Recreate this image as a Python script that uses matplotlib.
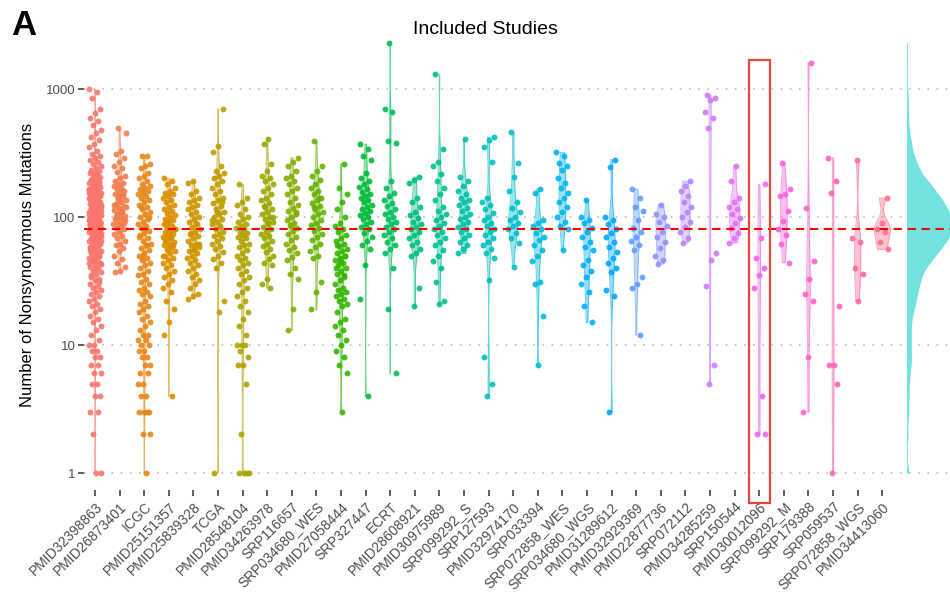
import numpy as np
import matplotlib
matplotlib.use('Agg')
import matplotlib.pyplot as plt
from matplotlib.patches import Rectangle
from matplotlib.transforms import blended_transform_factory

plt.rcParams['font.family'] = ['Liberation Sans', 'DejaVu Sans']

# values (nonsynonymous mutations per sample)
v_PMID32398863 = [1000, 950, 850, 700, 650, 590, 560, 520, 480, 450, 420, 400, 370, 350, 330, 310, 300,
                  290, 280, 270, 260, 250, 240, 235, 230, 225, 220, 215, 210, 205, 200, 196, 192, 188,
                  184, 180, 176, 172, 168, 165, 162, 158, 155, 152, 149, 146, 143, 140, 137, 134, 131,
                  128, 126, 124, 122, 120, 118, 116, 114, 112, 110, 108, 106, 104, 102, 100, 99, 97,
                  95, 93, 92, 90, 88, 87, 85, 84, 82, 81, 80, 78, 77, 76, 74, 73, 72, 70, 69, 68, 66,
                  65, 64, 62, 61, 60, 58, 57, 56, 54, 53, 52, 50, 49, 48, 46, 45, 44, 42, 41, 40, 38,
                  37, 36, 34, 33, 32, 30, 29, 28, 27, 26, 25, 24, 23, 22, 21, 20, 19, 18, 17, 16, 15,
                  14, 13, 12, 11, 10, 10, 9, 9, 8, 8, 7, 7, 6, 6, 5, 5, 4, 4, 3, 3, 2, 1, 1,
                  150, 130, 120, 110, 100, 95, 90, 85, 80, 75, 70, 65, 60, 55, 50, 45, 140, 125, 105, 88,
                  210, 195, 185, 175, 165, 160, 150, 145, 140, 135, 130, 127, 123, 119, 115, 111, 107,
                  103, 98, 94, 91, 89, 86, 83, 79, 75, 71, 67, 63, 59, 55, 51, 47, 43, 39, 35, 31, 170,
                  155, 138, 121, 113, 101, 96, 86, 78, 71, 66, 58, 52, 48, 44, 62, 84, 92, 108, 117,
                  132, 144, 162, 82, 76, 69, 74, 91, 99, 104, 112, 87, 79]
v_PMID26873401 = [500, 450, 330, 310, 290, 270, 250, 240, 225, 210, 200, 190, 185, 180, 175, 170, 165,
                  160, 155, 150, 145, 140, 135, 130, 126, 122, 118, 114, 110, 106, 102, 100, 97, 94,
                  91, 88, 85, 82, 80, 77, 74, 71, 68, 65, 62, 60, 57, 54, 50, 47, 44, 41, 38, 37,
                  150, 130, 120, 110, 100, 90, 140, 125, 115, 105, 95, 86]
v_ICGC = [300, 300, 260, 250, 240, 220, 210, 200, 190, 180, 175, 170, 165, 160, 155, 150, 145, 140,
          135, 130, 125, 120, 115, 110, 105, 100, 96, 92, 88, 85, 82, 78, 75, 72, 68, 65, 62, 60, 57,
          55, 52, 50, 48, 46, 44, 42, 40, 38, 36, 35, 33, 31, 30, 28, 27, 26, 25, 24, 22, 21, 20, 19,
          18, 17, 16, 15, 14, 13, 12, 12, 11, 11, 10, 10, 9, 9, 8, 8, 7, 7, 6, 6, 5, 5, 4, 4, 3, 3,
          3, 3, 2, 2, 1, 120, 100, 80, 70, 60, 50]
v_PMID25151357 = [200, 190, 180, 170, 160, 155, 150, 145, 140, 135, 130, 125, 120, 116, 112, 108, 104,
                  100, 97, 94, 91, 88, 85, 82, 80, 78, 76, 74, 72, 70, 68, 66, 64, 62, 60, 58, 56, 54,
                  52, 50, 48, 46, 44, 42, 40, 38, 36, 34, 32, 30, 28, 26, 22, 19, 15, 12, 4,
                  90, 80, 70, 65, 60, 55, 50]
v_PMID25839328 = [190, 185, 160, 150, 140, 135, 130, 125, 120, 115, 110, 105, 100, 96, 92, 88, 84, 80,
                  77, 74, 71, 68, 65, 62, 60, 58, 56, 54, 52, 50, 48, 46, 44, 42, 40, 38, 36, 34, 32,
                  30, 28, 25, 24, 23, 90, 75, 62, 55]
v_TCGA = [700, 360, 320, 250, 230, 220, 210, 200, 190, 180, 170, 160, 150, 142, 135, 128, 122, 116,
          110, 105, 100, 96, 92, 88, 84, 80, 77, 74, 71, 68, 65, 62, 59, 56, 53, 50, 47, 44, 40, 22,
          18, 1, 130, 110, 95, 85]
v_PMID28548104 = [180, 140, 130, 125, 115, 105, 100, 96, 92, 88, 85, 82, 80, 77, 75, 72, 70, 68, 65,
                  62, 60, 58, 55, 52, 50, 48, 46, 44, 42, 40, 38, 36, 34, 32, 30, 28, 26, 24, 22, 20,
                  18, 16, 14, 12, 10, 10, 10, 9, 8, 7, 7, 5, 2, 1, 1, 1, 1]
v_PMID34263978 = [410, 370, 260, 230, 210, 200, 190, 180, 170, 160, 150, 142, 135, 128, 122, 116, 110,
                  105, 100, 96, 92, 88, 84, 80, 77, 74, 71, 68, 65, 62, 59, 56, 53, 50, 47, 44, 42, 33,
                  30, 28, 120, 100, 90]
v_SRP116657 = [290, 270, 250, 230, 210, 200, 190, 180, 170, 160, 150, 140, 132, 125, 118, 112, 106,
               100, 95, 90, 86, 82, 78, 74, 70, 66, 62, 58, 55, 52, 49, 46, 40, 36, 33, 19, 13, 110, 85]
v_SRP034680_WES = [390, 250, 230, 210, 195, 180, 170, 160, 150, 142, 135, 128, 122, 116, 110, 105, 100,
                   95, 90, 86, 82, 78, 74, 70, 66, 62, 58, 54, 50, 48, 31, 26, 19, 140, 120]
v_PMID27058444 = [260, 170, 150, 130, 115, 100, 90, 85, 80, 76, 72, 68, 65, 62, 59, 56, 54, 52, 50, 48,
                  46, 44, 42, 40, 38, 36, 34, 32, 30, 28, 27, 26, 25, 24, 23, 22, 21, 20, 18, 16, 15,
                  14, 13, 12, 11, 10, 9, 8, 7, 6, 3, 60, 50, 45, 40, 35]
v_SRP327447 = [370, 340, 300, 280, 220, 200, 190, 180, 172, 165, 158, 152, 146, 140, 135, 130, 125, 120,
               116, 112, 108, 104, 100, 96, 92, 88, 84, 80, 75, 70, 65, 60, 56, 42, 23, 4]
v_ECRT = [2300, 700, 660, 390, 380, 190, 170, 155, 145, 135, 128, 122, 116, 110, 105, 100, 96, 92, 88,
          84, 80, 76, 72, 68, 64, 60, 56, 52, 40, 19, 6]
v_PMID28608921 = [205, 195, 185, 140, 130, 120, 110, 104, 98, 92, 88, 84, 80, 76, 72, 68, 64, 60, 56,
                  52, 50, 28, 20]
v_PMID30975989 = [1300, 340, 270, 250, 215, 190, 170, 150, 135, 120, 112, 106, 100, 95, 90, 85, 80, 76,
                  72, 68, 64, 60, 55, 50, 45, 40, 31, 22, 21]
v_SRP099292_S = [410, 205, 190, 175, 160, 150, 142, 136, 130, 124, 118, 112, 106, 100, 96, 92, 88, 84,
                 80, 76, 72, 68, 64, 60, 56, 52]
v_SRP127593 = [420, 400, 350, 270, 140, 130, 124, 115, 108, 100, 95, 90, 85, 80, 76, 72, 68, 64, 60,
               56, 52, 48, 32, 8, 5, 4]
v_PMID32974170 = [460, 265, 205, 160, 130, 118, 110, 100, 95, 90, 85, 80, 75, 68, 63, 41]
v_SRP033394 = [165, 155, 95, 90, 85, 80, 75, 70, 66, 60, 55, 50, 45, 31, 30, 17, 7]
v_SRP072858_WES = [320, 300, 265, 250, 235, 200, 185, 170, 155, 140, 130, 120, 110, 100, 92, 85, 80, 55]
v_SRP034680_WGS = [135, 100, 95, 90, 82, 76, 70, 64, 58, 55, 46, 42, 38, 34, 30, 26, 20, 15]
v_PMID31289612 = [280, 245, 100, 95, 88, 80, 75, 70, 64, 58, 53, 48, 44, 40, 37, 27, 24, 3]
v_PMID32929369 = [165, 140, 120, 112, 95, 82, 76, 70, 65, 60, 55, 34, 30, 28, 12]
v_PMID22877736 = [125, 105, 100, 92, 85, 76, 70, 64, 57, 50, 46, 43]
v_SRP072112 = [190, 175, 160, 145, 130, 120, 110, 100, 92, 84, 76, 68, 63]
v_PMID34285259 = [900, 850, 820, 660, 590, 500, 52, 46, 29, 7, 5]
v_SRP150544 = [250, 190, 140, 130, 120, 115, 105, 98, 90, 82, 75, 68, 63]
v_PMID30012096 = [180, 68, 48, 40, 35, 28, 4, 2, 2]
v_SRP099292_M = [265, 165, 150, 145, 112, 93, 80, 72, 62, 44]
v_SRP179388 = [1600, 118, 45, 33, 25, 22, 8, 3]
v_SRP059537 = [290, 190, 155, 20, 7, 7, 5, 1]
v_SRP072858_WGS = [280, 68, 64, 40, 36, 22]
v_PMID34413060 = [140, 90, 80, 77, 64, 56]

studies = ['PMID32398863', 'PMID26873401', 'ICGC', 'PMID25151357', 'PMID25839328', 'TCGA',
           'PMID28548104', 'PMID34263978', 'SRP116657', 'SRP034680_WES', 'PMID27058444',
           'SRP327447', 'ECRT', 'PMID28608921', 'PMID30975989', 'SRP099292_S', 'SRP127593',
           'PMID32974170', 'SRP033394', 'SRP072858_WES', 'SRP034680_WGS', 'PMID31289612',
           'PMID32929369', 'PMID22877736', 'SRP072112', 'PMID34285259', 'SRP150544',
           'PMID30012096', 'SRP099292_M', 'SRP179388', 'SRP059537', 'SRP072858_WGS', 'PMID34413060']
groups = [v_PMID32398863, v_PMID26873401, v_ICGC, v_PMID25151357, v_PMID25839328, v_TCGA,
          v_PMID28548104, v_PMID34263978, v_SRP116657, v_SRP034680_WES, v_PMID27058444,
          v_SRP327447, v_ECRT, v_PMID28608921, v_PMID30975989, v_SRP099292_S, v_SRP127593,
          v_PMID32974170, v_SRP033394, v_SRP072858_WES, v_SRP034680_WGS, v_PMID31289612,
          v_PMID32929369, v_PMID22877736, v_SRP072112, v_PMID34285259, v_SRP150544,
          v_PMID30012096, v_SRP099292_M, v_SRP179388, v_SRP059537, v_SRP072858_WGS, v_PMID34413060]
median_line = 80
highlight = 'PMID30012096'


def hue_pal(n, c=100, l=65):
    # ggplot2 default discrete palette (polar LUV -> sRGB)
    h = np.deg2rad(15 + np.arange(n) * 360.0 / n)
    xn, yn, zn = 95.047, 100.0, 108.883
    un = 4 * xn / (xn + 15 * yn + 3 * zn)
    vn = 9 * yn / (xn + 15 * yn + 3 * zn)
    Y = yn * ((l + 16) / 116.0) ** 3
    up = c * np.cos(h) / (13 * l) + un
    vp = c * np.sin(h) / (13 * l) + vn
    X = Y * 9 * up / (4 * vp)
    Z = Y * (12 - 3 * up - 20 * vp) / (4 * vp)
    xyz = np.vstack([X, np.full(n, Y), Z]) / 100.0
    m = np.array([[3.2404542, -1.5371385, -0.4985314],
                  [-0.9692660, 1.8760108, 0.0415560],
                  [0.0556434, -0.2040259, 1.0572252]])
    rgb = m @ xyz
    rgb = np.where(rgb > 0.0031308, 1.055 * np.abs(rgb) ** (1 / 2.4) - 0.055, 12.92 * rgb)
    return np.clip(rgb.T, 0, 1)


def kde(x, grid, adjust=1.0):
    x = np.asarray(x, float)
    n = len(x)
    sd = x.std(ddof=1)
    q75, q25 = np.percentile(x, [75, 25])
    lo = min(sd, (q75 - q25) / 1.34)
    if lo <= 0:
        lo = sd if sd > 0 else 1.0
    bw = 0.9 * lo * n ** -0.2 * adjust
    d = np.exp(-0.5 * ((grid[:, None] - x[None, :]) / bw) ** 2).sum(axis=1)
    return d / (n * bw * np.sqrt(2 * np.pi))


cols = hue_pal(len(studies))

fig = plt.figure(figsize=(9.5, 5.92), dpi=100)
ax = fig.add_axes([84 / 950, 1 - 490 / 592, 1 - 84 / 950, (490 - 40) / 592])
ax.set_yscale('log')

for yv in [1, 10, 100, 1000]:
    ax.axhline(yv, color='#BDBDBD', lw=1.2, ls=(0, (1, 4.5)), zorder=0)

# violins, area scaled
dens_list = []
for vals in groups:
    lv = np.log10(vals)
    g = np.linspace(lv.min(), lv.max(), 256)
    dens_list.append((g, kde(lv, g)))
dmax = max(d.max() for g, d in dens_list)
for i, (g, d) in enumerate(dens_list):
    hw = d / dmax * 0.33
    ax.fill_betweenx(10 ** g, i - hw, i + hw, color=cols[i], alpha=0.4, lw=0, zorder=1)
    ax.plot(np.r_[i - hw, (i + hw)[::-1], i - hw[0]], 10 ** np.r_[g, g[::-1], g[0]],
            color=cols[i], lw=0.7, alpha=0.6, zorder=1)

# jittered points
for i, vals in enumerate(groups):
    k = np.arange(len(vals))
    off = ((k * 0.6180339887 + i * 0.37) % 1.0 - 0.5) * 0.52
    ax.scatter(i + off, vals, s=18, color=cols[i], alpha=0.9, lw=0, zorder=2)

# overall distribution on the right
allv = np.log10(np.concatenate([np.asarray(v, float) for v in groups]))
g = np.linspace(allv.min(), allv.max(), 400)
d = kde(allv, g, adjust=0.85)
w = d / d.max() * 1.9
base = len(studies)
ax.fill_betweenx(10 ** g, base, base + w, color='#72E2DF', lw=0, zorder=1)
ax.plot(np.full(2, base), [1, 10 ** allv.max()], color='#72E2DF', lw=0.6, zorder=1)

ax.axhline(median_line, color='#FF0000', lw=1.5, ls=(0, (4, 2.7)), zorder=3)

ax.set_xlim(-0.45, (950 - 95) / 24.6)
ax.set_ylim(10 ** (-17 / 128), 10 ** (433 / 128))
ax.set_yticks([1, 10, 100, 1000])
ax.set_yticklabels(['1', '10', '100', '1000'])
ax.yaxis.set_minor_locator(matplotlib.ticker.NullLocator())
ax.set_xticks(range(len(studies)))
ax.set_xticklabels(studies, rotation=45, ha='right', rotation_mode='anchor')
ax.tick_params(axis='both', colors='#333333', length=4, width=1.1, labelcolor='#4D4D4D')
ax.tick_params(axis='x', labelsize=10, pad=3)
ax.tick_params(axis='y', labelsize=9.5, pad=2)
for s in ax.spines.values():
    s.set_visible(False)
ax.set_ylabel('Number of Nonsynonymous Mutations', fontsize=12, labelpad=8)

# highlight box around one study
hi = studies.index(highlight)
tr = blended_transform_factory(ax.transData, fig.transFigure)
ax.add_patch(Rectangle((hi - 0.41, 1 - 503 / 592), 0.84, (503 - 60) / 592, transform=tr,
                       fill=False, edgecolor='#E5473B', lw=1.6, clip_on=False, zorder=5))

fig.text(485 / 950, 1 - 30 / 592, 'Included Studies', ha='center', va='center', fontsize=14)
fig.text(0.012, 0.985, 'A', ha='left', va='top', fontsize=25, fontweight='bold')

fig.savefig('out.png', dpi=100)
